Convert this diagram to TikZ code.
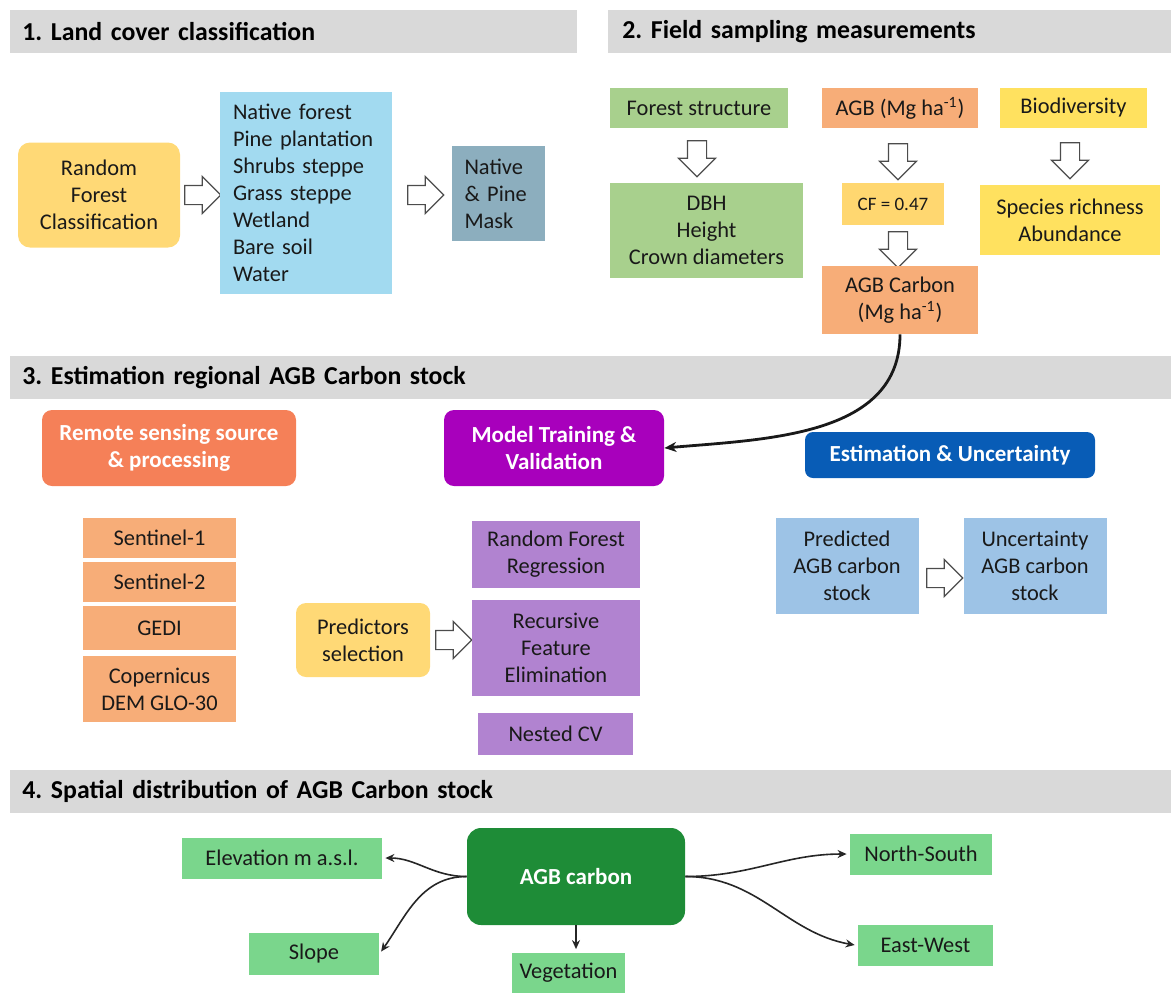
\documentclass[tikz,border=0pt]{standalone}
\usepackage{fontspec}
\setmainfont{Carlito}
\usepackage{tikz}
\usetikzlibrary{
  shapes.arrows,
  arrows.meta,
  positioning
}
\frenchspacing
\definecolor{hdrgray}{RGB}{217,217,217}
\definecolor{rfyellow}{RGB}{255,217,118}
\definecolor{lcblue}{RGB}{162,218,240}
\definecolor{maskgray}{RGB}{140,174,190}
\definecolor{fsgreen}{RGB}{168,208,141}
\definecolor{agborange}{RGB}{247,173,120}
\definecolor{cfyellow}{RGB}{255,215,112}
\definecolor{bioyellow}{RGB}{255,225,95}
\definecolor{rsscoral}{RGB}{245,128,88}
\definecolor{mtvmagenta}{RGB}{168,0,188}
\definecolor{eublue}{RGB}{8,92,182}
\definecolor{rfpurple}{RGB}{177,131,208}
\definecolor{predblue}{RGB}{157,195,230}
\definecolor{agbgreen}{RGB}{30,140,55}
\definecolor{lightgreen}{RGB}{122,214,140}
\tikzset{
  basebox/.style={rectangle,align=center,inner sep=2pt,text=black!90,font=\fontsize{11.2}{13.5}\selectfont},
  hdrbar/.style={rectangle,fill=hdrgray,anchor=north west,align=left,inner xsep=6pt,inner ysep=0pt,
    minimum height=21.5pt,text width=568.5pt,font=\fontsize{12.9}{14}\selectfont\bfseries},
  rfnode/.style={basebox,fill=rfyellow,rounded corners=6pt},
  lcnode/.style={basebox,fill=lcblue,align=left,inner xsep=6.5pt,text width=73pt,minimum height=101pt},
  masknode/.style={basebox,fill=maskgray,align=left,inner xsep=6.25pt,text width=34pt,minimum height=47.5pt},
  fsnode/.style={basebox,fill=fsgreen},
  agbnode/.style={basebox,fill=agborange},
  cfnode/.style={basebox,fill=cfyellow,font=\fontsize{9.5}{11}\selectfont},
  bionode/.style={basebox,fill=bioyellow},
  headbox/.style={basebox,text=white,rounded corners=5pt,font=\fontsize{11.5}{13.5}\selectfont\bfseries},
  sennode/.style={basebox,fill=agborange,minimum width=76.5pt},
  purpnode/.style={basebox,fill=rfpurple,minimum width=84pt},
  prednode/.style={basebox,fill=predblue,minimum width=71.5pt,minimum height=48pt},
  varnode/.style={basebox,fill=lightgreen,minimum height=20.5pt},
  hollowarr/.style={single arrow,draw=black!70,fill=white,line width=0.6pt,inner xsep=0pt,inner ysep=4.5pt,
    single arrow head extend=4.5pt,minimum height=18pt},
  downarr/.style={hollowarr,shape border rotate=270,inner xsep=4.5pt,inner ysep=0pt},
  bigarr/.style={-{Stealth[length=6pt,width=5pt]},line width=1.4pt,color=black!90},
  thinarr/.style={-{Stealth[length=4.5pt,width=4pt]},line width=0.8pt,color=black!85,shorten >=1.5pt}
}

\begin{document}
\begin{tikzpicture}[x=0.5pt,y=0.5pt]
  \useasboundingbox (0,0) rectangle (1171,-992);

  %% Section headers
  \node[hdrbar,text width=271.5pt] (hlc) at (10,-10) {1. Land cover classification};
  \node[hdrbar,inner xsep=7pt,text width=267.5pt] (hfs) at (608,-10) {2. Field sampling measurements};
  \node[hdrbar] (hest) at (10,-356) {3. Estimation regional AGB Carbon stock};
  \node[hdrbar] (hsp) at (10,-770) {4. Spatial distribution of AGB Carbon stock};

  %% 1. Land cover classification
  \node[rfnode,minimum width=81pt,minimum height=52.5pt] (rfc) at (99,-195) {Random\\Forest\\Classification};
  \node[hollowarr] (a1) at (198,-195) {};
  \node[lcnode] (lc) at (306,-193)
    {Native forest\\Pine plantation\\Shrubs steppe\\Grass steppe\\Wetland\\Bare soil\\Water};
  \node[hollowarr] (a2) at (421,-195) {};
  \node[masknode] (mask) at (498.5,-193.5) {Native\\\& Pine\\Mask};

  %% 2. Field sampling measurements
  \node[fsnode,minimum width=89pt,minimum height=20pt] (fs) at (699,-108) {Forest structure};
  \node[downarr] (a3) at (697,-154) {};
  \node[fsnode,minimum width=96.5pt,minimum height=47.5pt] (dbh) at (706.5,-230.5) {DBH\\Height\\Crown diameters};

  \node[agbnode,minimum width=78pt,minimum height=20pt] (agb) at (900,-108) {AGB (Mg ha\textsuperscript{-1})};
  \node[downarr] (a4) at (898,-157) {};
  \node[cfnode,minimum width=51pt,minimum height=21pt] (cf) at (893,-204) {CF = 0.47};
  \node[downarr] (a5) at (898,-245) {};
  \node[agbnode,minimum width=78pt,minimum height=34pt] (agbc) at (900,-300) {AGB Carbon\\(Mg ha\textsuperscript{-1})};

  \node[bionode,minimum width=73.5pt,minimum height=20pt] (bio) at (1073.5,-108) {Biodiversity};
  \node[downarr] (a6) at (1070,-156) {};
  \node[bionode,minimum width=90pt,minimum height=35pt] (spr) at (1070,-220) {Species richness\\Abundance};

  %% 3. Estimation regional AGB Carbon stock
  \node[headbox,fill=rsscoral,minimum width=127pt,minimum height=38pt] (rss) at (169,-448)
    {Remote sensing source\\\& processing};
  \node[headbox,fill=mtvmagenta,minimum width=110pt,minimum height=38pt] (mtv) at (554,-448)
    {Model Training \&\\Validation};
  \node[headbox,fill=eublue,rounded corners=4pt,minimum width=145pt,minimum height=23pt] (eu) at (950,-455)
    {Estimation \& Uncertainty};

  \node[sennode,minimum height=20pt] (s1) at (159.5,-538) {Sentinel-1};
  \node[sennode,minimum height=20pt] (s2) at (159.5,-582) {Sentinel-2};
  \node[sennode,minimum height=22pt] (gedi) at (159.5,-628) {GEDI};
  \node[sennode,minimum height=33pt] (cop) at (159.5,-689) {Copernicus\\DEM GLO-30};

  \node[rfnode,rounded corners=5pt,minimum width=67pt,minimum height=37pt] (ps) at (363,-640) {Predictors\\selection};
  \node[hollowarr] (a7) at (449,-640) {};
  \node[purpnode,minimum height=33.5pt] (rfr) at (556,-554.5) {Random Forest\\Regression};
  \node[purpnode,minimum height=48pt] (rfe) at (556,-648) {Recursive\\Feature\\Elimination};
  \node[purpnode,minimum width=77.5pt,minimum height=21pt] (ncv) at (555.5,-734) {Nested CV};

  \node[prednode] (pred) at (847,-566) {Predicted\\AGB carbon\\stock};
  \node[hollowarr] (a8) at (940,-578) {};
  \node[prednode] (unc) at (1035,-566) {Uncertainty\\AGB carbon\\stock};

  \draw[bigarr] (agbc.south) to[out=-90,in=5] (mtv.east);

  %% 4. Spatial distribution of AGB Carbon stock
  \node[headbox,fill=agbgreen,rounded corners=7pt,minimum width=109pt,minimum height=48.5pt] (agbcarbon)
    at (576,-876.5) {AGB carbon};
  \node[varnode,minimum width=100pt] (elev) at (282,-858) {Elevation m a.s.l.};
  \node[varnode,minimum width=65pt,minimum height=21pt] (slope) at (314,-954) {Slope};
  \node[varnode,minimum width=56.5pt] (veg) at (568.5,-973) {Vegetation};
  \node[varnode,minimum width=71pt] (ns) at (921,-854) {North-South};
  \node[varnode,minimum width=67.5pt] (ew) at (925.5,-945.5) {East-West};

  \draw[thinarr] (agbcarbon.west) to[out=180,in=0] (elev.east);
  \draw[thinarr] (agbcarbon.west) to[out=180,in=55] (slope.east);
  \draw[thinarr] (agbcarbon.south) -- (agbcarbon.south |- veg.north);
  \draw[thinarr] (agbcarbon.east) to[out=0,in=180] (ns.west);
  \draw[thinarr] (agbcarbon.east) to[out=0,in=170] (ew.west);
\end{tikzpicture}
\end{document}
